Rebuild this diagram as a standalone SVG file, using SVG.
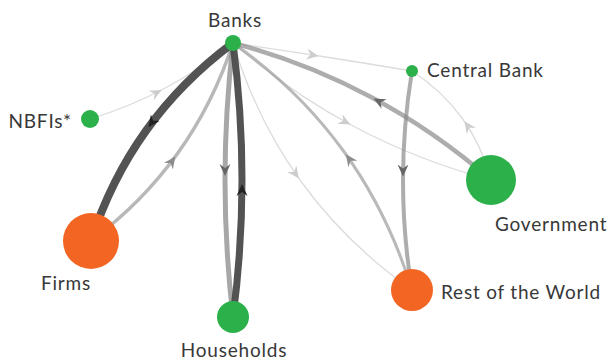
<svg xmlns="http://www.w3.org/2000/svg" width="611" height="362" viewBox="0 0 611 362">
<style>
.e{fill:none;stroke-linecap:butt}
.lbl{font-family:"Lato","Open Sans",sans-serif;font-size:19px;letter-spacing:0.8px;fill:#383838}
.g{fill:#2cb04a}
.o{fill:#f26522}
</style>
<defs>
<marker id="aDark" markerUnits="userSpaceOnUse" viewBox="-16 -7 20 14" markerWidth="20" markerHeight="14" refX="0" refY="0" orient="auto"><path d="M-4,0 L-16,-5.5 L-12,0 L-16,5.5 Z" fill="#222"/></marker>
<marker id="aMid" markerUnits="userSpaceOnUse" viewBox="-16 -7 20 14" markerWidth="20" markerHeight="14" refX="0" refY="0" orient="auto"><path d="M-4,0 L-16,-5.5 L-12,0 L-16,5.5 Z" fill="#666"/></marker>
<marker id="aLight" markerUnits="userSpaceOnUse" viewBox="-16 -7 20 14" markerWidth="20" markerHeight="14" refX="0" refY="0" orient="auto"><path d="M-4,0 L-16,-5.5 L-12,0 L-16,5.5 Z" fill="#8c8c8c"/></marker>
<marker id="aFaint" markerUnits="userSpaceOnUse" viewBox="-16 -7 20 14" markerWidth="20" markerHeight="14" refX="0" refY="0" orient="auto"><path d="M-4,0 L-16,-5.5 L-12,0 L-16,5.5 Z" fill="#cdcdcd"/></marker>
</defs>
<g id="connectors">
<path id="e-nbfi-banks" class="e" d="M90,119 Q129.5,107 165.25,88 Q201,69 233,43" stroke="#dcdcdc" stroke-width="1.3" marker-mid="url(#aFaint)"/>
<path id="e-banks-cb" class="e" d="M233,43 Q277.75,49.5 322.5,56.5 Q367.25,63.5 412,71" stroke="#dcdcdc" stroke-width="1.3" marker-mid="url(#aFaint)"/>
<path id="e-banks-gov" class="e" d="M233,43 Q289.5,92.25 354,126.5 Q418.5,160.75 491,180" stroke="#dcdcdc" stroke-width="1.3" marker-mid="url(#aFaint)"/>
<path id="e-banks-row" class="e" d="M233,43 Q256.5,120 301.25,181.75 Q346,243.5 412,290" stroke="#dcdcdc" stroke-width="1.3" marker-mid="url(#aFaint)"/>
<path id="e-gov-cb" class="e" d="M491,180 Q481.75,145.25 462,118 Q442.25,90.75 412,71" stroke="#dcdcdc" stroke-width="1.3" marker-mid="url(#aFaint)"/>
<path id="e-row-banks" class="e" d="M412,290 Q388.25,212.75 343.5,151 Q298.75,89.25 233,43" stroke="#8a8a8a" stroke-opacity="0.6" stroke-width="3" marker-mid="url(#aLight)"/>
<path id="e-cb-row" class="e" d="M412,71 Q403,125.75 403,180.5 Q403,235.25 412,290" stroke="#8a8a8a" stroke-opacity="0.7" stroke-width="4" marker-mid="url(#aMid)"/>
<path id="e-gov-banks" class="e" d="M491,180 Q434.5,130.75 370,96.5 Q305.5,62.25 233,43" stroke="#8a8a8a" stroke-opacity="0.7" stroke-width="4.5" marker-mid="url(#aMid)"/>
<path id="e-firms-banks" class="e" d="M91,241 Q142.2,202.8 177.7,153.3 Q213.2,103.8 233,43" stroke="#9a9a9a" stroke-opacity="0.7" stroke-width="3.5" marker-mid="url(#aLight)"/>
<path id="e-banks-hh" class="e" d="M233,43 Q225,111.5 225,180 Q225,248.5 233,317" stroke="#8a8a8a" stroke-opacity="0.75" stroke-width="5" marker-mid="url(#aMid)"/>
<path id="e-hh-banks" class="e" d="M233,317 Q242,248.5 242,180 Q242,111.5 233,43" stroke="#4a4a4a" stroke-opacity="0.95" stroke-width="7" marker-mid="url(#aDark)"/>
<path id="e-banks-firms" class="e" d="M233,43 Q181.6,81.1 146.1,130.6 Q110.6,180.1 91,241" stroke="#4a4a4a" stroke-opacity="0.95" stroke-width="8" marker-mid="url(#aDark)"/>
</g>
<g id="node-banks"><circle class="g" cx="233" cy="43" r="8"/><text class="lbl" x="235" y="27" text-anchor="middle">Banks</text></g>
<g id="node-central-bank"><circle class="g" cx="412" cy="71" r="6"/><text class="lbl" x="427" y="77">Central Bank</text></g>
<g id="node-nbfis"><circle class="g" cx="90" cy="119" r="9"/><text class="lbl" x="72" y="128" text-anchor="end">NBFIs*</text></g>
<g id="node-firms"><circle class="o" cx="91" cy="241" r="28"/><text class="lbl" x="66" y="290" text-anchor="middle">Firms</text></g>
<g id="node-households"><circle class="g" cx="233" cy="317" r="16"/><text class="lbl" x="234" y="357" text-anchor="middle">Households</text></g>
<g id="node-government"><circle class="g" cx="491" cy="180" r="25"/><text class="lbl" x="495" y="231">Government</text></g>
<g id="node-rest-of-world"><circle class="o" cx="412" cy="290" r="21"/><text class="lbl" x="441" y="299">Rest of the World</text></g>
</svg>
